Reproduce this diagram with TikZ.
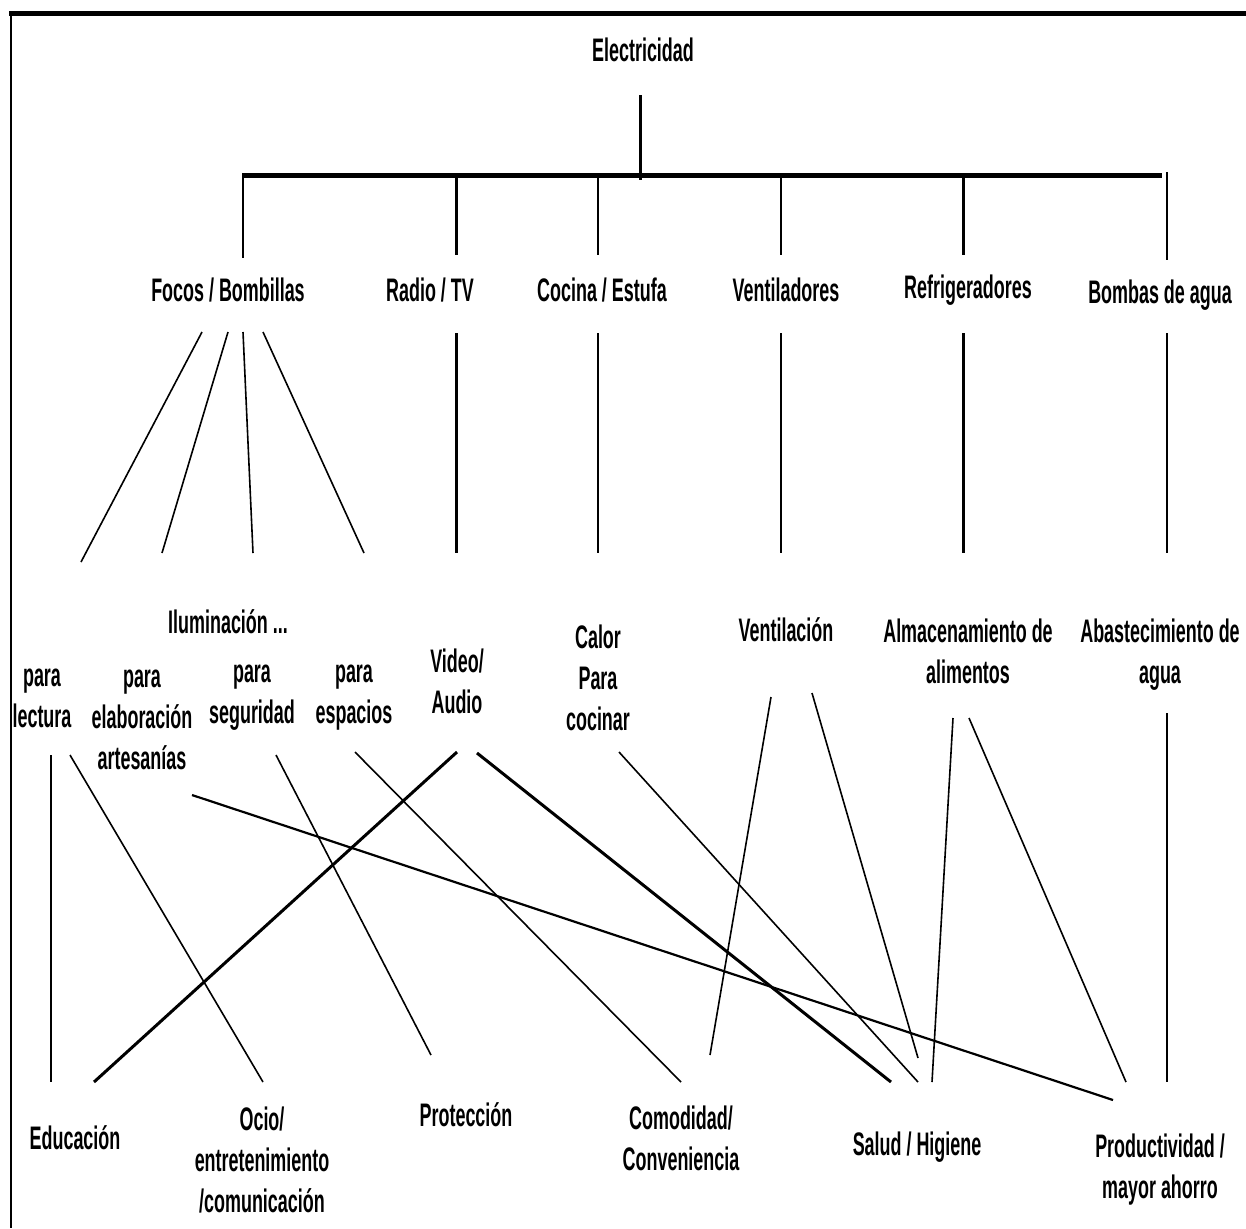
\documentclass[tikz,border=0pt]{standalone}
\usepackage{fontspec}
\setmainfont{Liberation Sans}[FakeStretch=0.55]
\usetikzlibrary{calc}
\tikzset{
    every node/.style={inner sep=0mm, align=center, font=\bfseries\fontsize{16.3}{20.5}\selectfont}
}
\tikzset{thinl/.style={line width=0.8pt}, midl/.style={line width=1.1pt}, thickl/.style={line width=1.5pt}}
\tikzset{busl/.style={line width=2.5pt}}

\begin{document}
\begin{tikzpicture}[x=0.5pt, y=-0.5pt]
  \useasboundingbox (0,0) rectangle (1246,1228);
  \draw[line width=2.5pt] (9,13) -- (1246,13);
  \draw[line width=1pt] (11,12) -- (11,1228);

  \node (elec) at (643,50) {Electricidad};

  \node (focos) at (228,290) {Focos / Bombillas};
  \node (radio) at (430,290) {Radio / TV};
  \node (cocina) at (602,290) {Cocina / Estufa};
  \node (venti) at (786,290) {Ventiladores};
  \node (refri) at (968,290) {Refrigeradores};
  \node (bombas) at (1160,295) {Bombas de agua};

  \node (ilum) at (228,622) {Iluminación ...};
  \node (lectura) at (42,698) {para\\lectura};
  \node (artes) at (142,720) {para\\elaboración\\artesanías};
  \node (segur) at (252,698) {para\\seguridad};
  \node (espac) at (354,698) {para\\espacios};
  \node (video) at (457,681) {Video/\\Audio};
  \node (calor) at (598,678) {Calor\\Para\\cocinar};
  \node (ventil) at (786,630) {Ventilación};
  \node (almac) at (968,651) {Almacenamiento de\\alimentos};
  \node (abast) at (1160,655) {Abastecimiento de\\agua};

  \node (educ) at (75,1138) {Educación};
  \node (ocio) at (262,1160) {Ocio/\\entretenimiento\\/comunicación};
  \node (prot) at (466,1115) {Protección};
  \node (comod) at (681,1138) {Comodidad/\\Conveniencia};
  \node (salud) at (917,1147) {Salud / Higiene};
  \node (produc) at (1160,1170) {Productividad /\\mayor ahorro};

  % tronco y barra
  \draw[thickl] ($(elec)+(-3,45)$) -- ($(elec)+(-3,130)$);
  \draw[busl] ($(focos)+(15,-115)$) -- ($(bombas)+(2,-120)$);

  \draw[thinl] ($(focos)+(15,-117)$) -- ($(focos)+(15,-32)$);
  \draw[thickl] ($(radio)+(26,-115)$) -- ($(radio)+(26,-35)$);
  \draw[thinl] ($(cocina)+(-4,-115)$) -- ($(cocina)+(-4,-35)$);
  \draw[thinl] ($(venti)+(-5,-115)$) -- ($(venti)+(-5,-35)$);
  \draw[thickl] ($(refri)+(-5,-115)$) -- ($(refri)+(-5,-35)$);
  \draw[thinl] ($(bombas)+(7,-123)$) -- ($(bombas)+(7,-35)$);

  % segundo nivel
  \draw[thinl] ($(focos)+(-26,42)$) -- ($(lectura)+(39,-136)$);
  \draw[thinl] ($(focos)+(0,42)$) -- ($(artes)+(20,-167)$);
  \draw[thinl] ($(focos)+(15,42)$) -- ($(segur)+(1,-145)$);
  \draw[thinl] ($(focos)+(35,42)$) -- ($(espac)+(10,-145)$);
  \draw[thickl] ($(radio)+(26,43)$) -- ($(video)+(-1,-128)$);
  \draw[thinl] ($(cocina)+(-4,43)$) -- ($(calor)+(0,-125)$);
  \draw[thinl] ($(venti)+(-5,43)$) -- ($(ventil)+(-5,-77)$);
  \draw[thickl] ($(refri)+(-5,43)$) -- ($(almac)+(-5,-98)$);
  \draw[thinl] ($(bombas)+(7,38)$) -- ($(abast)+(7,-102)$);

  % tercer nivel
  \draw[thinl] ($(lectura)+(9,57)$) -- ($(educ)+(-24,-56)$);
  \draw[thinl] ($(lectura)+(28,57)$) -- ($(ocio)+(1,-78)$);
  \draw[midl] ($(artes)+(50,75)$) -- ($(produc)+(-47,-70)$);
  \draw[thinl] ($(segur)+(24,57)$) -- ($(prot)+(-35,-60)$);
  \draw[thinl] ($(espac)+(1,54)$) -- ($(comod)+(0,-56)$);
  \draw[thickl] ($(video)+(0,71)$) -- ($(educ)+(19,-56)$);
  \draw[thickl] ($(video)+(20,72)$) -- ($(salud)+(-26,-65)$);
  \draw[thinl] ($(calor)+(21,74)$) -- ($(salud)+(1,-65)$);
  \draw[thinl] ($(ventil)+(-15,67)$) -- ($(comod)+(29,-83)$);
  \draw[thinl] ($(ventil)+(26,63)$) -- ($(salud)+(1,-89)$);
  \draw[thinl] ($(almac)+(-15,67)$) -- ($(salud)+(15,-65)$);
  \draw[thinl] ($(almac)+(1,67)$) -- ($(produc)+(-34,-88)$);
  \draw[thinl] ($(abast)+(7,58)$) -- ($(produc)+(7,-88)$);

\end{tikzpicture}
\end{document}
